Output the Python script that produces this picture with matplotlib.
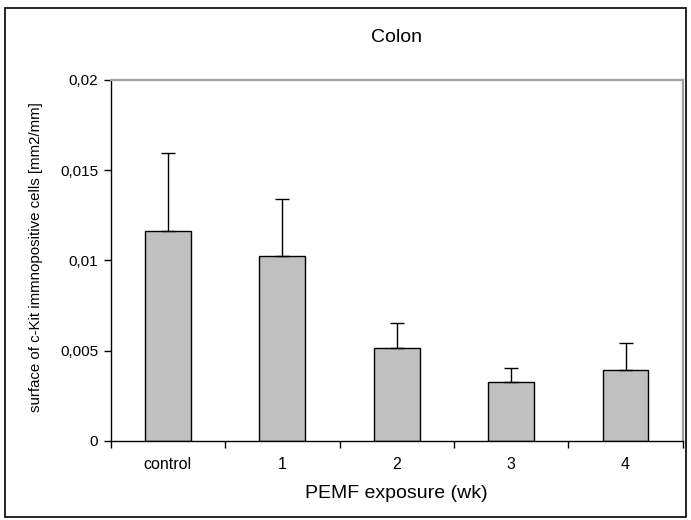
import matplotlib
matplotlib.use("Agg")
import matplotlib.pyplot as plt
from matplotlib.patches import Rectangle
from matplotlib.ticker import FixedLocator, NullFormatter

plt.rcParams['font.family'] = ['Liberation Sans', 'DejaVu Sans']

categories = ["control", "1", "2", "3", "4"]
means = [0.01164, 0.01024, 0.00512, 0.00327, 0.00392]
err_plus = [0.00433, 0.00318, 0.00139, 0.00078, 0.00151]
ytick_vals = [0, 0.005, 0.01, 0.015, 0.02]
ytick_labels = ["0", "0,005", "0,01", "0,015", "0,02"]

W, H = 691, 520
fig = plt.figure(figsize=(W / 100, H / 100), dpi=100)
fig.patch.set_facecolor("white")
fig.patches.append(Rectangle((5/W, 3/H), 681/W, 509/H, transform=fig.transFigure,
                             fill=False, edgecolor="black", linewidth=1.2))

ax = fig.add_axes([110.7/W, 1 - 440.7/H, 572/W, 360.7/H])
x = list(range(len(categories)))
ax.bar(x, means, width=0.4, color="#C0C0C0", edgecolor="black", linewidth=1.0, zorder=2)
ax.errorbar(x, means, yerr=[[0]*len(means), err_plus], fmt="none", ecolor="black",
            elinewidth=1.0, capsize=5, capthick=1.0, zorder=3)

ax.set_xlim(-0.5, len(categories) - 0.5)
ax.set_ylim(0, 0.02)
ax.set_yticks(ytick_vals)
ax.set_yticklabels(ytick_labels, fontsize=11)
ax.set_xticks(x)
ax.set_xticklabels(categories, fontsize=11.5)
ax.tick_params(axis="x", which="major", length=0, pad=12)
ax.xaxis.set_minor_locator(FixedLocator([i - 0.5 for i in range(len(categories) + 1)]))
ax.xaxis.set_minor_formatter(NullFormatter())
ax.tick_params(axis="x", which="minor", length=5, width=1, direction="out")
ax.tick_params(axis="y", length=5, width=1, direction="out", pad=4)

for s in ["left", "bottom"]:
    ax.spines[s].set_color("black")
    ax.spines[s].set_linewidth(1.0)
for s in ["top", "right"]:
    ax.spines[s].set_color("#A0A0A0")
    ax.spines[s].set_linewidth(1.6)

fig.text(36/W, 1 - 257/H, "surface of c-Kit immnopositive cells [mm2/mm]",
         rotation=90, ha="center", va="center", fontsize=10.8)
fig.text(396.7/W, 1 - 494/H, "PEMF exposure (wk)", ha="center", va="center", fontsize=14)
fig.text(396.7/W, 1 - 38/H, "Colon", ha="center", va="center", fontsize=14)

fig.savefig("out.png", dpi=100)
